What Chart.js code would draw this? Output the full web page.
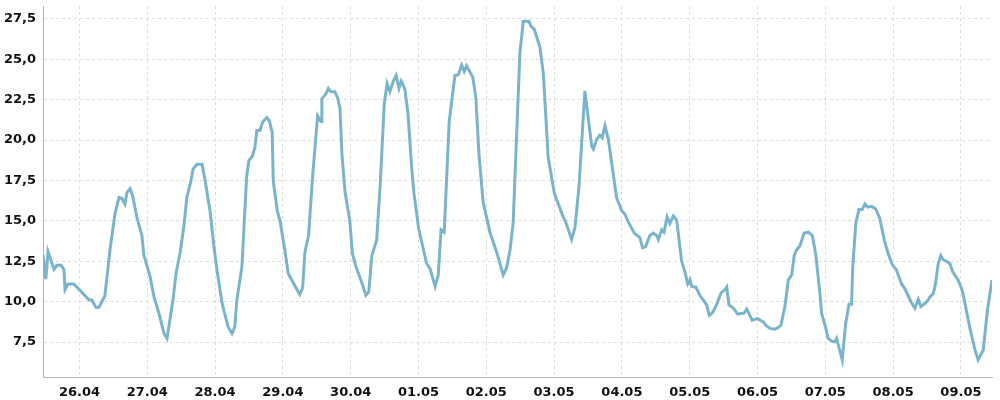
<!DOCTYPE html>
<html>
<head>
<meta charset="utf-8">
<script src="https://cdn.jsdelivr.net/npm/chart.js@4"></script>
<style>
  html, body { margin: 0; padding: 0; background: #fff; }
  #wrap { width: 1000px; height: 400px; }
</style>
</head>
<body>
<div id="wrap"><canvas id="c" width="1000" height="400"></canvas></div>
<script>
// Hours since 25.04 00:00
const hours = [
  11.1, 12.1, 12.9, 15.0, 16.0, 17.5, 18.5, 18.9, 19.9, 22.0, 24.2, 25.6, 27.4, 28.4, 29.8, 30.9,
  33.0, 34.8, 36.6, 38.0, 39.0, 40.1, 40.8, 41.9, 42.9, 44.3, 46.1, 46.8, 49.0, 50.4, 52.1, 53.9,
  55.0, 57.1, 58.2, 59.6, 61.0, 62.0, 63.5, 64.2, 65.6, 67.4, 68.4, 70.2, 71.6, 72.7, 74.4, 75.1,
  76.6, 78.0, 79.0, 79.7, 81.5, 83.2, 84.0, 85.2, 86.1, 86.8, 87.9, 88.8, 90.3, 91.2, 92.2, 92.6,
  94.0, 95.0, 96.7, 97.9, 99.9, 102.0, 103.0, 103.8, 105.1, 106.5, 108.3, 109.5, 109.8, 111.2, 112.1,
  113.0, 114.4, 115.4, 116.2, 116.9, 118.0, 119.7, 120.6, 121.9, 123.6, 125.4, 126.4, 127.5, 129.2,
  130.4, 131.9, 132.9, 133.9, 135.1, 136.1, 137.1, 137.9, 139.2, 140.3, 141.6, 142.4, 144.1, 146.9,
  148.1, 149.9, 151.0, 152.0, 153.1, 154.9, 156.9, 158.1, 159.3, 160.2, 161.0, 163.2, 164.3, 165.4,
  166.9, 169.3, 171.7, 174.0, 175.2, 176.4, 177.5, 179.9, 181.1, 183.1, 183.8, 185.0, 187.0, 188.2,
  189.9, 192.1, 195.2, 196.1, 198.2, 199.4, 200.8, 202.9, 205.3, 205.9, 207.1, 208.2, 209.0, 210.0,
  211.2, 214.1, 215.9, 217.1, 218.2, 220.4, 222.4, 223.3, 224.4, 225.9, 227.1, 228.3, 228.9, 230.1,
  230.9, 232.0, 233.0, 234.2, 235.4, 237.1, 238.3, 239.3, 240.1, 240.7, 242.2, 243.6, 246.0, 246.9,
  248.0, 249.5, 251.1, 252.5, 253.1, 253.9, 255.4, 257.0, 258.1, 259.3, 260.2, 262.1, 264.0, 264.9,
  266.0, 267.2, 268.4, 270.2, 271.3, 272.3, 273.7, 274.9, 276.1, 277.0, 277.8, 279.0, 280.5, 282.0,
  283.4, 284.6, 286.1, 286.7, 287.9, 289.0, 290.2, 291.4, 292.0, 294.0, 295.2, 296.4, 297.3, 297.7,
  298.8, 299.9, 301.1, 302.0, 303.0, 304.4, 305.8, 307.3, 308.9, 310.3, 311.7, 313.2, 315.0, 316.2,
  318.3, 319.7, 320.9, 321.8, 323.3, 324.4, 325.0, 326.2, 327.0, 328.0, 328.9, 329.7, 330.9, 332.1,
  333.1, 335.0, 336.5, 339.2, 341.0, 342.1, 343.9, 345.4, 347.0
];
const temps = [
  12.9, 11.4, 13.1, 12.0, 12.25, 12.25, 12.0, 10.75, 11.1, 11.1, 10.7, 10.45, 10.1, 10.1, 9.66, 9.66,
  10.35, 13.2, 15.45, 16.45, 16.4, 16.05, 16.75, 17.0, 16.5, 15.25, 14.1, 12.9, 11.55, 10.3, 9.3, 8.05,
  7.73, 10.1, 11.75, 13.0, 14.7, 16.45, 17.5, 18.2, 18.5, 18.5, 17.6, 15.65, 13.4, 11.95, 10.0, 9.47,
  8.45, 8.03, 8.45, 10.1, 12.15, 17.8, 18.75, 19.0, 19.55, 20.6, 20.6, 21.1, 21.4, 21.2, 20.5, 17.5,
  15.65, 15.0, 13.2, 11.75, 11.1, 10.45, 10.85, 13.05, 14.1, 17.7, 21.5, 21.15, 22.55, 22.85, 23.2,
  23.0, 23.0, 22.6, 22.0, 19.15, 16.8, 15.0, 13.0, 12.15, 11.35, 10.4, 10.6, 12.85, 13.8,
  17.1, 22.25, 23.5, 23.0, 23.65, 24.0, 23.2, 23.65, 23.15, 21.6, 18.3, 16.7, 14.5, 12.35,
  12.05, 10.95, 11.65, 14.45, 14.3, 21.2, 24.0, 24.05, 24.65, 24.25, 24.6, 23.9, 22.65, 19.15,
  16.15, 14.3, 13.05, 11.65, 12.1, 13.2, 14.85, 25.4, 27.35, 27.35, 27.05, 26.85, 25.75, 24.1,
  18.95, 16.7, 15.25, 14.95, 13.85, 14.6, 17.1, 23.05, 19.65, 19.45, 20.05, 20.3, 20.15, 20.9,
  20.05, 16.45, 15.65, 15.4, 14.95, 14.25, 13.95, 13.35, 13.4, 14.1, 14.25, 14.1, 13.85, 14.45,
  14.3, 15.25, 14.85, 15.3, 15.05, 12.55, 11.85, 11.1, 11.35, 10.95, 10.9, 10.4, 9.8, 9.15,
  9.3, 9.8, 10.55, 10.75, 10.9, 9.8, 9.6, 9.23, 9.27, 9.3, 9.55, 8.86, 8.95, 8.86,
  8.75, 8.5, 8.35, 8.3, 8.4, 8.55, 9.7, 11.35, 11.65, 12.85, 13.2, 13.45, 14.25, 14.3,
  14.1, 12.95, 10.5, 9.27, 8.55, 7.73, 7.56, 7.52, 7.73, 6.4, 8.65, 9.85, 9.85, 12.15,
  14.85, 15.7, 15.7, 16.05, 15.85, 15.9, 15.75, 15.15, 13.8, 12.95, 12.3, 11.95, 11.1, 10.8,
  10.0, 9.6, 10.15, 9.7, 9.9, 10.1, 10.3, 10.5, 11.1, 12.4, 12.85, 12.6, 12.5, 12.35,
  11.85, 11.35, 10.7, 8.35, 7.0, 6.4, 7.0, 9.5, 11.35
];
const dayLabels = ['26.04','27.04','28.04','29.04','30.04','01.05','02.05','03.05','04.05','05.05','06.05','07.05','08.05','09.05'];
const yTicks = [7.5, 10.0, 12.5, 15.0, 17.5, 20.0, 22.5, 25.0, 27.5];

const points = hours.map((h, i) => ({ x: h, y: temps[i] }));
const tickFont = { family: 'DejaVu Sans', size: 13, weight: 'bold' };

new Chart(document.getElementById('c'), {
  type: 'line',
  data: {
    datasets: [{
      data: points,
      borderColor: 'rgb(122,179,204)',
      borderWidth: 3,
      pointRadius: 0,
      tension: 0,
      fill: false
    }]
  },
  options: {
    responsive: false,
    animation: false,
    devicePixelRatio: 1,
    layout: { padding: { top: 6, right: 8, left: 0, bottom: 0 } },
    plugins: { legend: { display: false }, tooltip: { enabled: false } },
    scales: {
      x: {
        type: 'linear',
        min: hours[0],
        max: hours[hours.length - 1],
        afterFit: s => { s.height = 23; s.paddingLeft = 0; s.paddingRight = 0; },
        afterBuildTicks: s => { s.ticks = dayLabels.map((_, i) => ({ value: (i + 1) * 24 })); },
        ticks: {
          autoSkip: false, maxRotation: 0, padding: 8, color: '#111', font: tickFont,
          callback: v => dayLabels[Math.round(v / 24) - 1]
        },
        grid: { color: '#dcdcdc', lineWidth: 1, drawTicks: false },
        border: { display: true, color: '#b4b4b4', width: 1, dash: [3, 3] }
      },
      y: {
        type: 'linear',
        min: 5.34,
        max: 28.3,
        afterFit: s => { s.width = 43; s.paddingTop = 0; s.paddingBottom = 0; },
        afterBuildTicks: s => { s.ticks = yTicks.map(v => ({ value: v })); },
        ticks: {
          padding: 7, color: '#111', font: tickFont,
          callback: v => v.toFixed(1).replace('.', ',')
        },
        grid: { color: '#dcdcdc', lineWidth: 1, drawTicks: false },
        border: { display: true, color: '#b4b4b4', width: 1, dash: [3, 3] }
      }
    }
  }
});
</script>
</body>
</html>
